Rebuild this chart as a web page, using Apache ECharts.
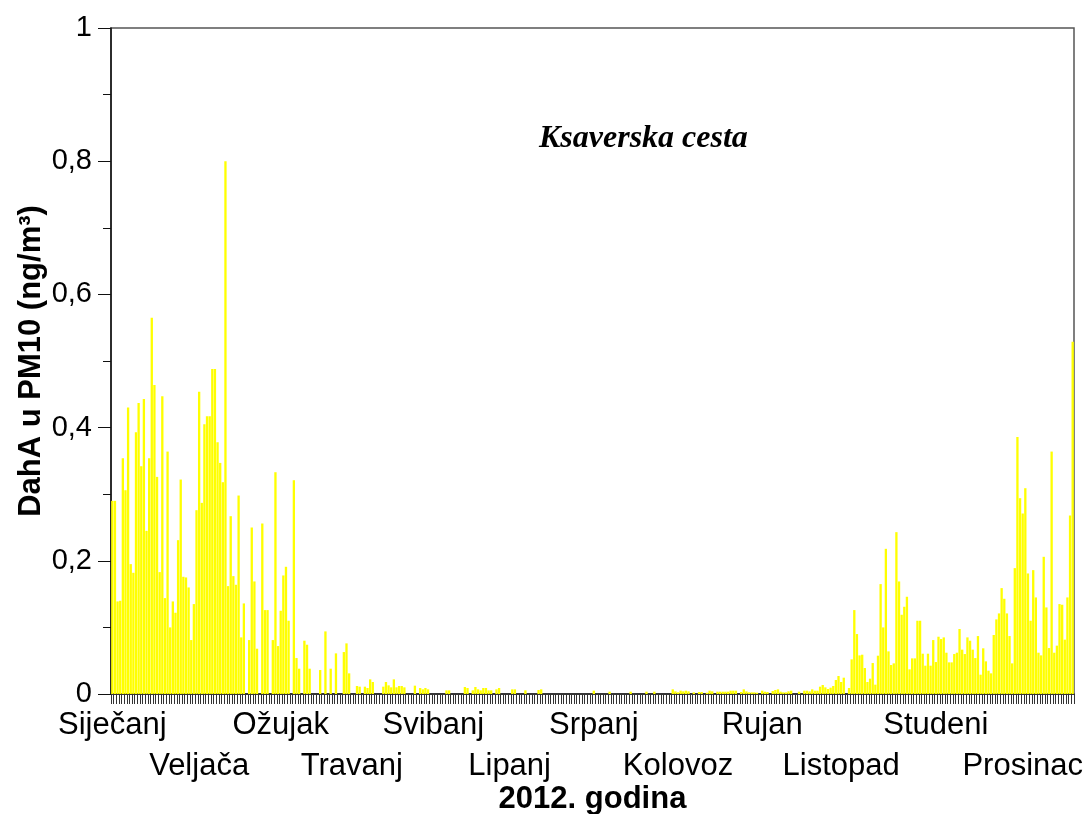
<!DOCTYPE html>
<html>
<head>
<meta charset="utf-8">
<script src="https://cdn.jsdelivr.net/npm/echarts@6/dist/echarts.min.js"></script>
<style>
html,body{margin:0;padding:0;background:#fff;}
#chart{width:1089px;height:814px;}
</style>
</head>
<body>
<div id="chart"></div>
<script>
// ---- DATA: daily DahA in PM10 (ng/m3), Ksaverska cesta, 2012 ----
const year = 2012;
const monthNames = ['Siječanj','Veljača','Ožujak','Travanj','Svibanj','Lipanj','Srpanj','Kolovoz','Rujan','Listopad','Studeni','Prosinac'];
const jan = [0.29,0.29,0.139,0.14,0.354,0.306,0.43,0.195,0.182,0.393,0.437,0.342,0.443,0.245,0.354,0.565,0.464,0.326,0.183,0.447,0.144,0.364,0.1,0.139,0.122,0.231,0.322,0.176,0.175,0.16,0.081];
const feb = [0.135,0.276,0.454,0.287,0.405,0.417,0.417,0.488,0.488,0.378,0.347,0.318,0.8,0.162,0.267,0.177,0.164,0.298,0.085,0.136,0,0.081,0.25,0.169,0.068,0,0.256,0.126,0.126];
const mar = [0,0.081,0.333,0.072,0.125,0.178,0.191,0.11,0,0.321,0.054,0.038,0,0.08,0.074,0.038,0,0,0,0.036,0,0.094,0,0.038,0,0.061,0,0,0.063,0.076,0.031];
const apr = [0,0,0.012,0.011,0,0.011,0.009,0.022,0.018,0,0,0,0.011,0.018,0.013,0.01,0.022,0.01,0.012,0.012,0.01,0,0,0,0.0125,0,0.009,0.007,0.009,0.007];
const may = [0,0,0,0,0,0,0.0055,0.0055,0,0,0,0,0,0.0105,0.009,0,0.0055,0.0105,0.007,0.0055,0.009,0.009,0.0055,0.0055,0,0.007,0.009,0,0,0,0];
const jun = [0.007,0.007,0,0,0,0.0055,0,0,0,0,0.006,0.007,0,0,0,0,0,0,0,0,0,0,0,0,0,0,0,0,0,0];
const jul = [0,0.005,0,0,0,0,0,0.0035,0,0,0,0,0,0,0,0.0035,0,0,0,0,0,0.0035,0,0,0.0035,0,0,0,0,0,0];
const aug = [0.007,0.004,0.0025,0.005,0.004,0.005,0.004,0,0.0025,0,0.003,0.003,0,0.002,0.005,0.004,0,0.0035,0.0035,0.0035,0.0035,0.0035,0.005,0.005,0.005,0,0.003,0.007,0.004,0.0025,0.0025];
const sep = [0.0025,0.002,0,0.005,0.0035,0.003,0,0.0045,0.006,0.007,0.0035,0.0025,0.0025,0.004,0.005,0,0,0.0035,0,0.005,0.005,0.004,0.007,0.005,0.005,0.011,0.0135,0.01,0.0075,0.0095];
const oct = [0.012,0.021,0.027,0.018,0.0245,0,0.009,0.052,0.126,0.09,0.058,0.059,0.039,0.018,0.023,0.0465,0.014,0.0575,0.165,0.1,0.218,0.064,0.0435,0.046,0.243,0.169,0.119,0.131,0.146,0.037,0.0535];
const nov = [0.0535,0.11,0.11,0.0605,0.0425,0.0605,0.0425,0.081,0.048,0.086,0.0825,0.085,0.062,0.0475,0.0475,0.06,0.062,0.0976,0.0666,0.06,0.085,0.08,0.0666,0.054,0.087,0.029,0.0686,0.049,0.035,0.031];
const dec = [0.0886,0.112,0.121,0.159,0.143,0.121,0.087,0.046,0.189,0.386,0.294,0.271,0.309,0.181,0.11,0.186,0.145,0.062,0.058,0.206,0.13,0.069,0.364,0.062,0.0726,0.135,0.134,0.0816,0.145,0.268,0.529];
const yTicks = [0, 0.2, 0.4, 0.6, 0.8, 1];
const chartTitle = 'Ksaverska cesta';
const yName = 'DahA u PM10 (ng/m³)';
const xName = '2012. godina';

// ---- build ----
const months = [jan,feb,mar,apr,may,jun,jul,aug,sep,oct,nov,dec];
const values = [];
const days = [];
const monthStart = [];
months.forEach((arr, m) => {
  monthStart.push(values.length);
  arr.forEach((v, d) => {
    values.push(v);
    days.push(year + '-' + String(m + 1).padStart(2, '0') + '-' + String(d + 1).padStart(2, '0'));
  });
});
// layout: small nudges (in days) so the month names sit where the original placed them
const labelNudge = [0,2,4,0,1,-1,1,2,3,3,8,11];
const labelAt = {};
monthStart.forEach((s, m) => { labelAt[s + labelNudge[m]] = m; });

const FONT = '"Liberation Sans", Arial, sans-serif';
const labelStyle = {fontFamily: FONT, fontSize: 31, color: '#000'};
function rowAxis(row, extra) {
  // row 0: Jan, Mar, May...; row 1: Feb, Apr, Jun... (staggered month names)
  return Object.assign({
    type: 'category',
    data: days,
    boundaryGap: true,
    gridIndex: 0,
    position: 'bottom',
    axisLabel: Object.assign({
      interval: (i) => labelAt[i] !== undefined && labelAt[i] % 2 === row,
      formatter: (v, i) => { const m = labelAt[i]; return (m !== undefined && m % 2 === row) ? monthNames[m] : ''; },
      showMinLabel: true, showMaxLabel: true, hideOverlap: false,
      margin: 16 + row * 41
    }, labelStyle),
    splitLine: {show: false}
  }, extra);
}

const chart = echarts.init(document.getElementById('chart'), null, {renderer: 'canvas'});
chart.setOption({
  animation: false,
  backgroundColor: '#ffffff',
  title: {
    text: chartTitle,
    left: 534, top: 118,
    textStyle: {fontFamily: '"Liberation Serif", "Times New Roman", serif', fontStyle: 'italic', fontWeight: 'bold', fontSize: 32, color: '#000'}
  },
  grid: {left: 111, right: 15, top: 28, bottom: 120, show: true, borderColor: '#555', borderWidth: 1.5, containLabel: false, outerBoundsMode: 'none'},
  xAxis: [
    rowAxis(0, {
      name: xName,
      nameLocation: 'middle',
      nameGap: 90,
      nameMoveOverlap: false,
      nameTextStyle: {fontFamily: FONT, fontWeight: 'bold', fontSize: 31, color: '#000'},
      axisLine: {show: true, lineStyle: {color: '#222', width: 1.5}},
      axisTick: {show: true, interval: 0, length: 10, lineStyle: {color: '#333', width: 1}}
    }),
    rowAxis(1, {
      axisLine: {show: false},
      axisTick: {show: false}
    })
  ],
  yAxis: {
    type: 'value',
    min: yTicks[0], max: yTicks[yTicks.length - 1], interval: 0.2,
    name: yName,
    nameLocation: 'middle',
    nameRotate: 90,
    nameGap: 64,
    nameMoveOverlap: false,
    nameTextStyle: {fontFamily: FONT, fontWeight: 'bold', fontSize: 31, color: '#000'},
    axisLine: {show: true, lineStyle: {color: '#111', width: 1.5}},
    axisTick: {show: true, length: 13, lineStyle: {color: '#111', width: 1}},
    minorTick: {show: true, splitNumber: 2, length: 8, lineStyle: {color: '#111', width: 1}},
    axisLabel: {
      formatter: (v) => String(Math.round(v * 10) / 10).replace('.', ','),
      fontFamily: FONT, fontSize: 29, color: '#000', margin: 19
    },
    splitLine: {show: false}
  },
  series: [{
    type: 'bar',
    xAxisIndex: 0,
    data: values,
    barCategoryGap: '12%',
    itemStyle: {color: '#ffff00'},
    emphasis: {disabled: true}
  }]
});
</script>
</body>
</html>
